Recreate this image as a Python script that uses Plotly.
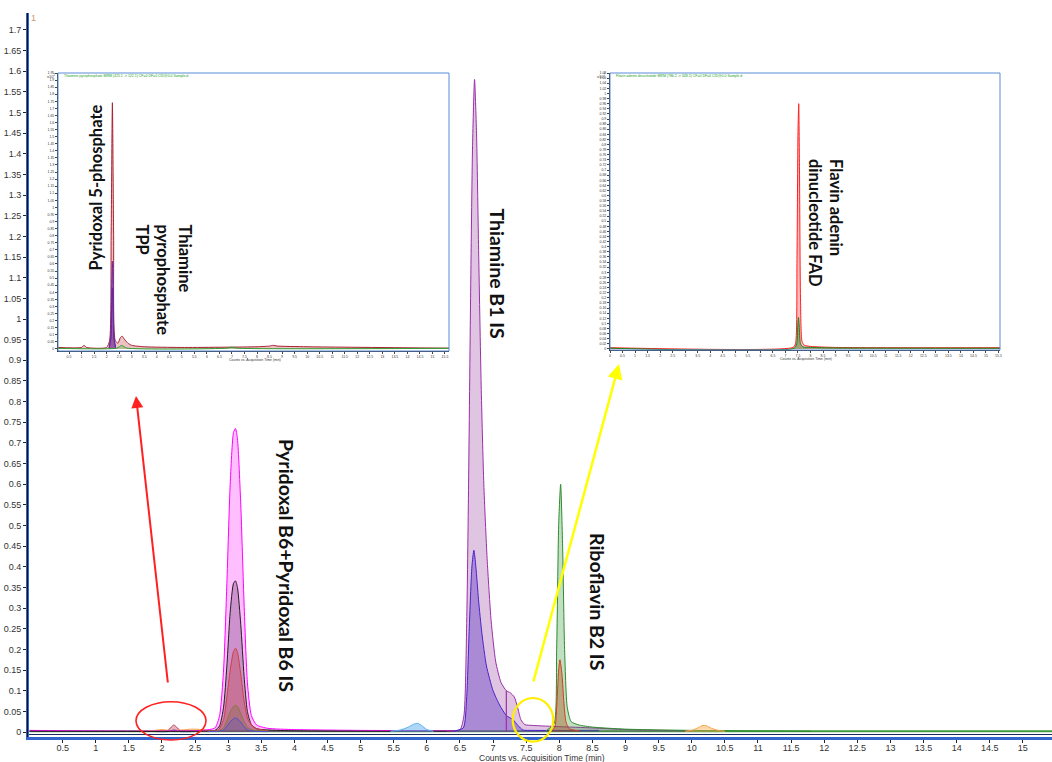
import plotly.graph_objects as go

# ---------------- main chromatogram data (time in min) ----------------
baseline_t = [0.0, 15.5]
baseline_y = [0.002, 0.002]

b6_t = [0.0, 2.6, 2.8, 2.87, 2.93, 2.98, 3.03, 3.08, 3.11, 3.14, 3.19, 3.24, 3.29, 3.35, 3.43, 3.6, 4.0, 5.0, 6.4]
b6_total = [0.004, 0.004, 0.01, 0.04, 0.15, 0.36, 0.60, 0.725, 0.735, 0.71, 0.55, 0.31, 0.12, 0.04, 0.017, 0.009, 0.006, 0.004, 0.003]
b6_black = [0.002, 0.002, 0.004, 0.015, 0.06, 0.16, 0.29, 0.36, 0.366, 0.35, 0.26, 0.135, 0.05, 0.018, 0.008, 0.005, 0.003, 0.002, 0.002]

b6s_t = [2.7, 2.85, 2.93, 2.98, 3.03, 3.08, 3.11, 3.14, 3.19, 3.24, 3.3, 3.4, 3.6]
b6_red = [0.002, 0.005, 0.03, 0.085, 0.15, 0.195, 0.203, 0.193, 0.14, 0.075, 0.03, 0.01, 0.003]
b6_olive = [0.002, 0.003, 0.01, 0.028, 0.048, 0.062, 0.065, 0.062, 0.045, 0.025, 0.01, 0.004, 0.002]
b6_blue = [0.001, 0.002, 0.005, 0.014, 0.025, 0.032, 0.034, 0.032, 0.024, 0.013, 0.005, 0.002, 0.001]

p5p_t = [1.9, 2.08, 2.14, 2.18, 2.22, 2.28, 2.45]
p5p_red = [0.002, 0.003, 0.012, 0.017, 0.012, 0.003, 0.002]
p5p_blue = [0.001, 0.001, 0.003, 0.005, 0.003, 0.001, 0.001]

orange_lo_t = [1.6, 1.85, 2.0, 2.1, 2.3, 2.45, 2.6, 2.75, 2.9]
orange_lo_y = [0.002, 0.003, 0.006, 0.004, 0.005, 0.007, 0.006, 0.003, 0.002]

lblue_t = [5.45, 5.6, 5.72, 5.8, 5.86, 5.92, 6.0, 6.1]
lblue_y = [0.002, 0.005, 0.012, 0.019, 0.021, 0.016, 0.006, 0.002]

b1_t = [6.3, 6.5, 6.56, 6.6, 6.63, 6.66, 6.69, 6.72, 6.75, 6.78, 6.82, 6.86, 6.91, 6.97, 7.04, 7.12, 7.2, 7.26, 7.32, 7.37, 7.42, 7.48, 7.6, 8.0, 8.5, 9.0, 9.5, 10.0]
b1_purple = [0.003, 0.006, 0.04, 0.25, 0.6, 1.05, 1.42, 1.58, 1.45, 1.18, 0.84, 0.60, 0.42, 0.27, 0.17, 0.12, 0.10, 0.095, 0.085, 0.06, 0.03, 0.018, 0.016, 0.013, 0.01, 0.006, 0.004, 0.003]
b1_split_t = [7.2, 7.2]
b1_split_y = [0.0, 0.1]

b1is_t = [6.4, 6.55, 6.6, 6.64, 6.68, 6.71, 6.74, 6.78, 6.83, 6.9, 7.0, 7.1, 7.2, 7.3, 7.38, 7.45, 7.6, 8.6]
b1_blue = [0.002, 0.01, 0.08, 0.25, 0.40, 0.44, 0.40, 0.32, 0.24, 0.16, 0.10, 0.065, 0.04, 0.03, 0.015, 0.005, 0.004, 0.004]

b2_t = [7.8, 7.92, 7.96, 7.99, 8.02, 8.05, 8.08, 8.12, 8.18, 8.3, 8.5, 9.0, 10.0, 11.8]
b2_green = [0.003, 0.02, 0.2, 0.5, 0.6, 0.45, 0.2, 0.06, 0.025, 0.017, 0.012, 0.007, 0.004, 0.002]
b2s_t = [7.85, 7.93, 7.96, 7.99, 8.01, 8.04, 8.07, 8.1, 8.15, 8.3]
b2_red = [0.002, 0.01, 0.06, 0.15, 0.175, 0.14, 0.07, 0.025, 0.008, 0.003]

orange_t = [9.9, 10.02, 10.1, 10.17, 10.22, 10.3, 10.4, 10.5]
orange_y = [0.002, 0.005, 0.011, 0.016, 0.015, 0.009, 0.004, 0.002]

x_tick_vals = [0.5, 1, 1.5, 2, 2.5, 3, 3.5, 4, 4.5, 5, 5.5, 6, 6.5, 7, 7.5, 8, 8.5, 9, 9.5,
               10, 10.5, 11, 11.5, 12, 12.5, 13, 13.5, 14, 14.5, 15]

# ---------------- inset 1 (Pyridoxal 5-phosphate / TPP) ----------------
in1_t = [0.0, 1.0, 1.1, 1.2, 2.0, 2.12, 2.18, 2.23, 2.28, 2.34, 2.45, 2.55, 2.62, 2.7, 2.85, 3.0, 3.5, 5.0, 8.0, 8.5, 8.65, 8.8, 10.0, 15.7]
in1_red = [0.01, 0.01, 0.025, 0.01, 0.01, 0.06, 0.8, 1.74, 0.8, 0.06, 0.04, 0.08, 0.09, 0.07, 0.04, 0.025, 0.015, 0.01, 0.015, 0.02, 0.025, 0.02, 0.015, 0.005]
in1b_t = [2.1, 2.17, 2.2, 2.23, 2.26, 2.29, 2.36]
in1_blue = [0.005, 0.1, 0.4, 0.62, 0.4, 0.1, 0.005]
in1_dark = [0.005, 0.07, 0.28, 0.43, 0.28, 0.07, 0.005]
in1g_t = [0.0, 2.4, 2.6, 2.8, 6.8, 7.0, 7.2, 15.7]
in1_green = [0.004, 0.005, 0.024, 0.006, 0.005, 0.012, 0.005, 0.004]

# ---------------- inset 2 (FAD) ----------------
in2_t = [0.0, 7.3, 7.4, 7.46, 7.5, 7.53, 7.56, 7.6, 7.66, 7.75, 8.0, 9.0, 15.6]
in2_red = [0.005, 0.006, 0.02, 0.35, 0.85, 0.96, 0.7, 0.2, 0.03, 0.015, 0.01, 0.006, 0.005]
in2g_t = [0.0, 7.35, 7.45, 7.49, 7.52, 7.55, 7.6, 7.7, 8.0, 9.0, 15.6]
in2_green = [0.003, 0.003, 0.02, 0.09, 0.124, 0.09, 0.02, 0.008, 0.006, 0.004, 0.003]

fig = go.Figure()


def peak(x, y, line, fill, xa="x", ya="y", w=1.0):
    fig.add_trace(go.Scatter(x=x, y=y, mode="lines", line=dict(color=line, width=w, shape="spline", smoothing=0.6),
                             fill="tozeroy", fillcolor=fill, xaxis=xa, yaxis=ya, hoverinfo="skip", showlegend=False))


def line(x, y, color, xa="x", ya="y", w=1.0):
    fig.add_trace(go.Scatter(x=x, y=y, mode="lines", line=dict(color=color, width=w),
                             xaxis=xa, yaxis=ya, hoverinfo="skip", showlegend=False))


# main traces
line(baseline_t, baseline_y, "#3C9A3C", w=2)
peak(orange_lo_t, orange_lo_y, "#FFA040", "rgba(255,170,80,0.3)")
peak(p5p_t, p5p_red, "#C04050", "rgba(200,90,110,0.45)")
peak(p5p_t, p5p_blue, "#4040C0", "rgba(80,80,200,0.3)")
peak(b6_t, b6_total, "#FF00FF", "rgba(255,0,255,0.25)")
peak(b6_t, b6_black, "#202020", "rgba(90,40,90,0.30)")
peak(b6s_t, b6_red, "#D04040", "rgba(190,60,60,0.35)")
peak(b6s_t, b6_olive, "#8A7A3A", "rgba(120,110,60,0.30)")
peak(b6s_t, b6_blue, "#5050D0", "rgba(80,80,200,0.30)")
peak(lblue_t, lblue_y, "#58B0F0", "rgba(90,175,240,0.5)")
peak(b1_t, b1_purple, "#9A2FA8", "rgba(160,80,170,0.33)")
peak(b1is_t, b1_blue, "#4A22CC", "rgba(90,50,190,0.40)")
line(b1_split_t, b1_split_y, "#9A2FA8", w=1.2)
peak(b2_t, b2_green, "#2E8B2E", "rgba(50,150,50,0.30)")
peak(b2s_t, b2_red, "#D04020", "rgba(170,80,20,0.38)")
peak(orange_t, orange_y, "#FFA040", "rgba(255,170,80,0.45)")

# inset traces
peak(in1_t, in1_red, "#A82030", "rgba(200,80,90,0.35)", "x2", "y2")
peak(in1b_t, in1_dark, "#8A2050", "rgba(140,40,80,0.4)", "x2", "y2")
peak(in1b_t, in1_blue, "#5A2CC0", "rgba(90,40,170,0.45)", "x2", "y2")
peak(in1g_t, in1_green, "#30A030", "rgba(60,170,60,0.3)", "x2", "y2")
peak(in2_t, in2_red, "#FF2020", "rgba(255,60,60,0.35)", "x3", "y3")
peak(in2g_t, in2_green, "#208020", "rgba(40,130,40,0.45)", "x3", "y3")

W, H = 1052, 762
L, R, T, B = 29, 0, 13, 25


def px(p):
    return (p - L) / (W - L - R)


def py(p):
    return (H - B - p) / (H - T - B)


tickfont = dict(family="Liberation Sans, Arial", size=9, color="#333333")
tiny = dict(family="Liberation Sans, Arial", size=3.5, color="#333333")

in1_dom_x = [px(58), px(449)]
in1_dom_y = [py(351), py(73)]
in2_dom_x = [px(610), px(1000)]
in2_dom_y = [py(350), py(73)]

fig.update_layout(
    width=W, height=H, margin=dict(l=L, r=R, t=T, b=B, autoexpand=False),
    paper_bgcolor="white", plot_bgcolor="white", showlegend=False,
    xaxis=dict(range=[-0.008, 15.44], tickvals=x_tick_vals, ticks="outside", ticklen=3, tickcolor="#222",
               showgrid=False, zeroline=False, showline=True, linecolor="#3366CC", linewidth=3,
               tickfont=tickfont, domain=[0, 1], automargin=False, ticklabelstandoff=-3),
    yaxis=dict(range=[-0.012, 1.741], dtick=0.05, tick0=0, ticks="outside", ticklen=3, tickcolor="#222",
               showgrid=False, zeroline=False, showline=True, linecolor="#3366CC", linewidth=3,
               tickfont=tickfont, domain=[0, 1], automargin=False),
    xaxis2=dict(domain=in1_dom_x, anchor="y2", range=[0.06, 15.66], dtick=0.5, tick0=0.5, ticks="outside",
                ticklen=2, showgrid=False, zeroline=False, showline=True, linecolor="#333", linewidth=1,
                tickfont=tiny, automargin=False),
    yaxis2=dict(domain=in1_dom_y, anchor="x2", range=[-0.015, 1.95], dtick=0.05, tick0=0, ticks="outside",
                ticklen=2, showgrid=False, zeroline=False, showline=True, linecolor="#333", linewidth=1,
                tickfont=tiny, automargin=False),
    xaxis3=dict(domain=in2_dom_x, anchor="y3", range=[0.0, 15.56], dtick=0.5, tick0=0.5, ticks="outside",
                ticklen=2, showgrid=False, zeroline=False, showline=True, linecolor="#333", linewidth=1,
                tickfont=tiny, automargin=False),
    yaxis3=dict(domain=in2_dom_y, anchor="x3", range=[-0.004, 1.08], dtick=0.02, tick0=0, ticks="outside",
                ticklen=2, showgrid=False, zeroline=False, showline=True, linecolor="#333", linewidth=1,
                tickfont=tiny, automargin=False),
)

shapes = [
    dict(type="line", xref="paper", yref="paper", x0=-0.0015, x1=-0.0015, y0=0, y1=1,
         line=dict(color="#111", width=1)),
    dict(type="line", xref="paper", yref="paper", x0=0, x1=1, y0=py(734.5), y1=py(734.5),
         line=dict(color="#1A2A60", width=1)),
    dict(type="rect", xref="paper", yref="paper", x0=in1_dom_x[0], x1=in1_dom_x[1], y0=in1_dom_y[0], y1=in1_dom_y[1],
         line=dict(color="#5B8BD8", width=1)),
    dict(type="rect", xref="paper", yref="paper", x0=in2_dom_x[0], x1=in2_dom_x[1], y0=in2_dom_y[0], y1=in2_dom_y[1],
         line=dict(color="#5B8BD8", width=1)),
    dict(type="circle", xref="paper", yref="paper", x0=px(136), x1=px(206), y0=py(740), y1=py(701.7),
         line=dict(color="#FF2020", width=1.6)),
    dict(type="circle", xref="paper", yref="paper", x0=px(512.7), x1=px(553.3), y0=py(741.7), y1=py(698),
         line=dict(color="#FFEE00", width=2.2)),
]
fig.update_layout(shapes=shapes)

lab = dict(family="Lato, Open Sans, sans-serif", size=19.5, color="#111111")
lab_in = dict(family="Lato, Open Sans, sans-serif", size=16.5, color="#111111")

ann = [
    dict(text="<b>Pyridoxal B6+Pyridoxal B6 IS</b>", x=px(287), y=py(565), textangle=90, font=lab),
    dict(text="<b>Thiamine B1 IS</b>", x=px(497), y=py(273.5), textangle=90, font=lab),
    dict(text="<b>Riboflavin B2 IS</b>", x=px(598), y=py(601), textangle=90, font=lab),
    dict(text="<b>Pyridoxal 5-phosphate</b>", x=px(95), y=py(187.5), textangle=-90, font=lab_in),
    dict(text="<b>Thiamine<br>pyrophosphate<br>TPP</b>", x=px(163.5), y=py(280), textangle=90, font=lab_in,
         align="left"),
    dict(text="<b>Flavin adenin<br>dinucleotide FAD</b>", x=px(825.5), y=py(222.5), textangle=90, font=lab_in,
         align="left"),
    dict(text="Counts vs. Acquisition Time (min)", x=px(542), y=py(757.5),
         font=dict(family="Liberation Sans, Arial", size=8.5, color="#333333")),
    dict(text="1", x=px(33), y=py(18), font=dict(family="Liberation Sans, Arial", size=9, color="#C89870")),
    dict(text="x10<sup>2</sup>", x=px(51), y=py(76), font=dict(family="Liberation Sans, Arial", size=4, color="#333")),
    dict(text="x10<sup>2</sup>", x=px(601), y=py(76), font=dict(family="Liberation Sans, Arial", size=4, color="#333")),
    dict(text="Thiamine pyrophosphate MRM (425.1 -> 122.1) CF=0 DF=0 CID@0.0 Sample.d", x=px(62), y=py(76),
         xanchor="left", font=dict(family="Liberation Sans, Arial", size=3.5, color="#20A020")),
    dict(text="Flavin adenin dinucleotide MRM (786.2 -> 348.1) CF=0 DF=0 CID@0.0 Sample.d", x=px(614), y=py(76),
         xanchor="left", font=dict(family="Liberation Sans, Arial", size=3.5, color="#20A020")),
    dict(text="Counts vs. Acquisition Time (min)", x=px(255), y=py(359.5), font=tiny),
    dict(text="Counts vs. Acquisition Time (min)", x=px(806), y=py(358.5), font=tiny),
]
for a in ann:
    a.setdefault("xref", "paper")
    a.setdefault("yref", "paper")
    a.setdefault("showarrow", False)
    a.setdefault("xanchor", "center")
    a.setdefault("yanchor", "middle")

ann += [
    dict(x=px(136), y=py(396), xref="paper", yref="paper", ax=32, ay=288, axref="pixel", ayref="pixel",
         showarrow=True, arrowhead=2, arrowsize=1.2, arrowwidth=2, arrowcolor="#FF2020", text=""),
    dict(x=px(619), y=py(364), xref="paper", yref="paper", ax=-86, ay=319, axref="pixel", ayref="pixel",
         showarrow=True, arrowhead=2, arrowsize=1.2, arrowwidth=2.5, arrowcolor="#FFFF00", text=""),
]
fig.update_layout(annotations=ann)

# remove the default page margin so the figure fills the window exactly
fig.write_html("out.html", config={"displayModeBar": False},
               post_script="document.body.style.margin='0';document.body.style.overflow='hidden';")
